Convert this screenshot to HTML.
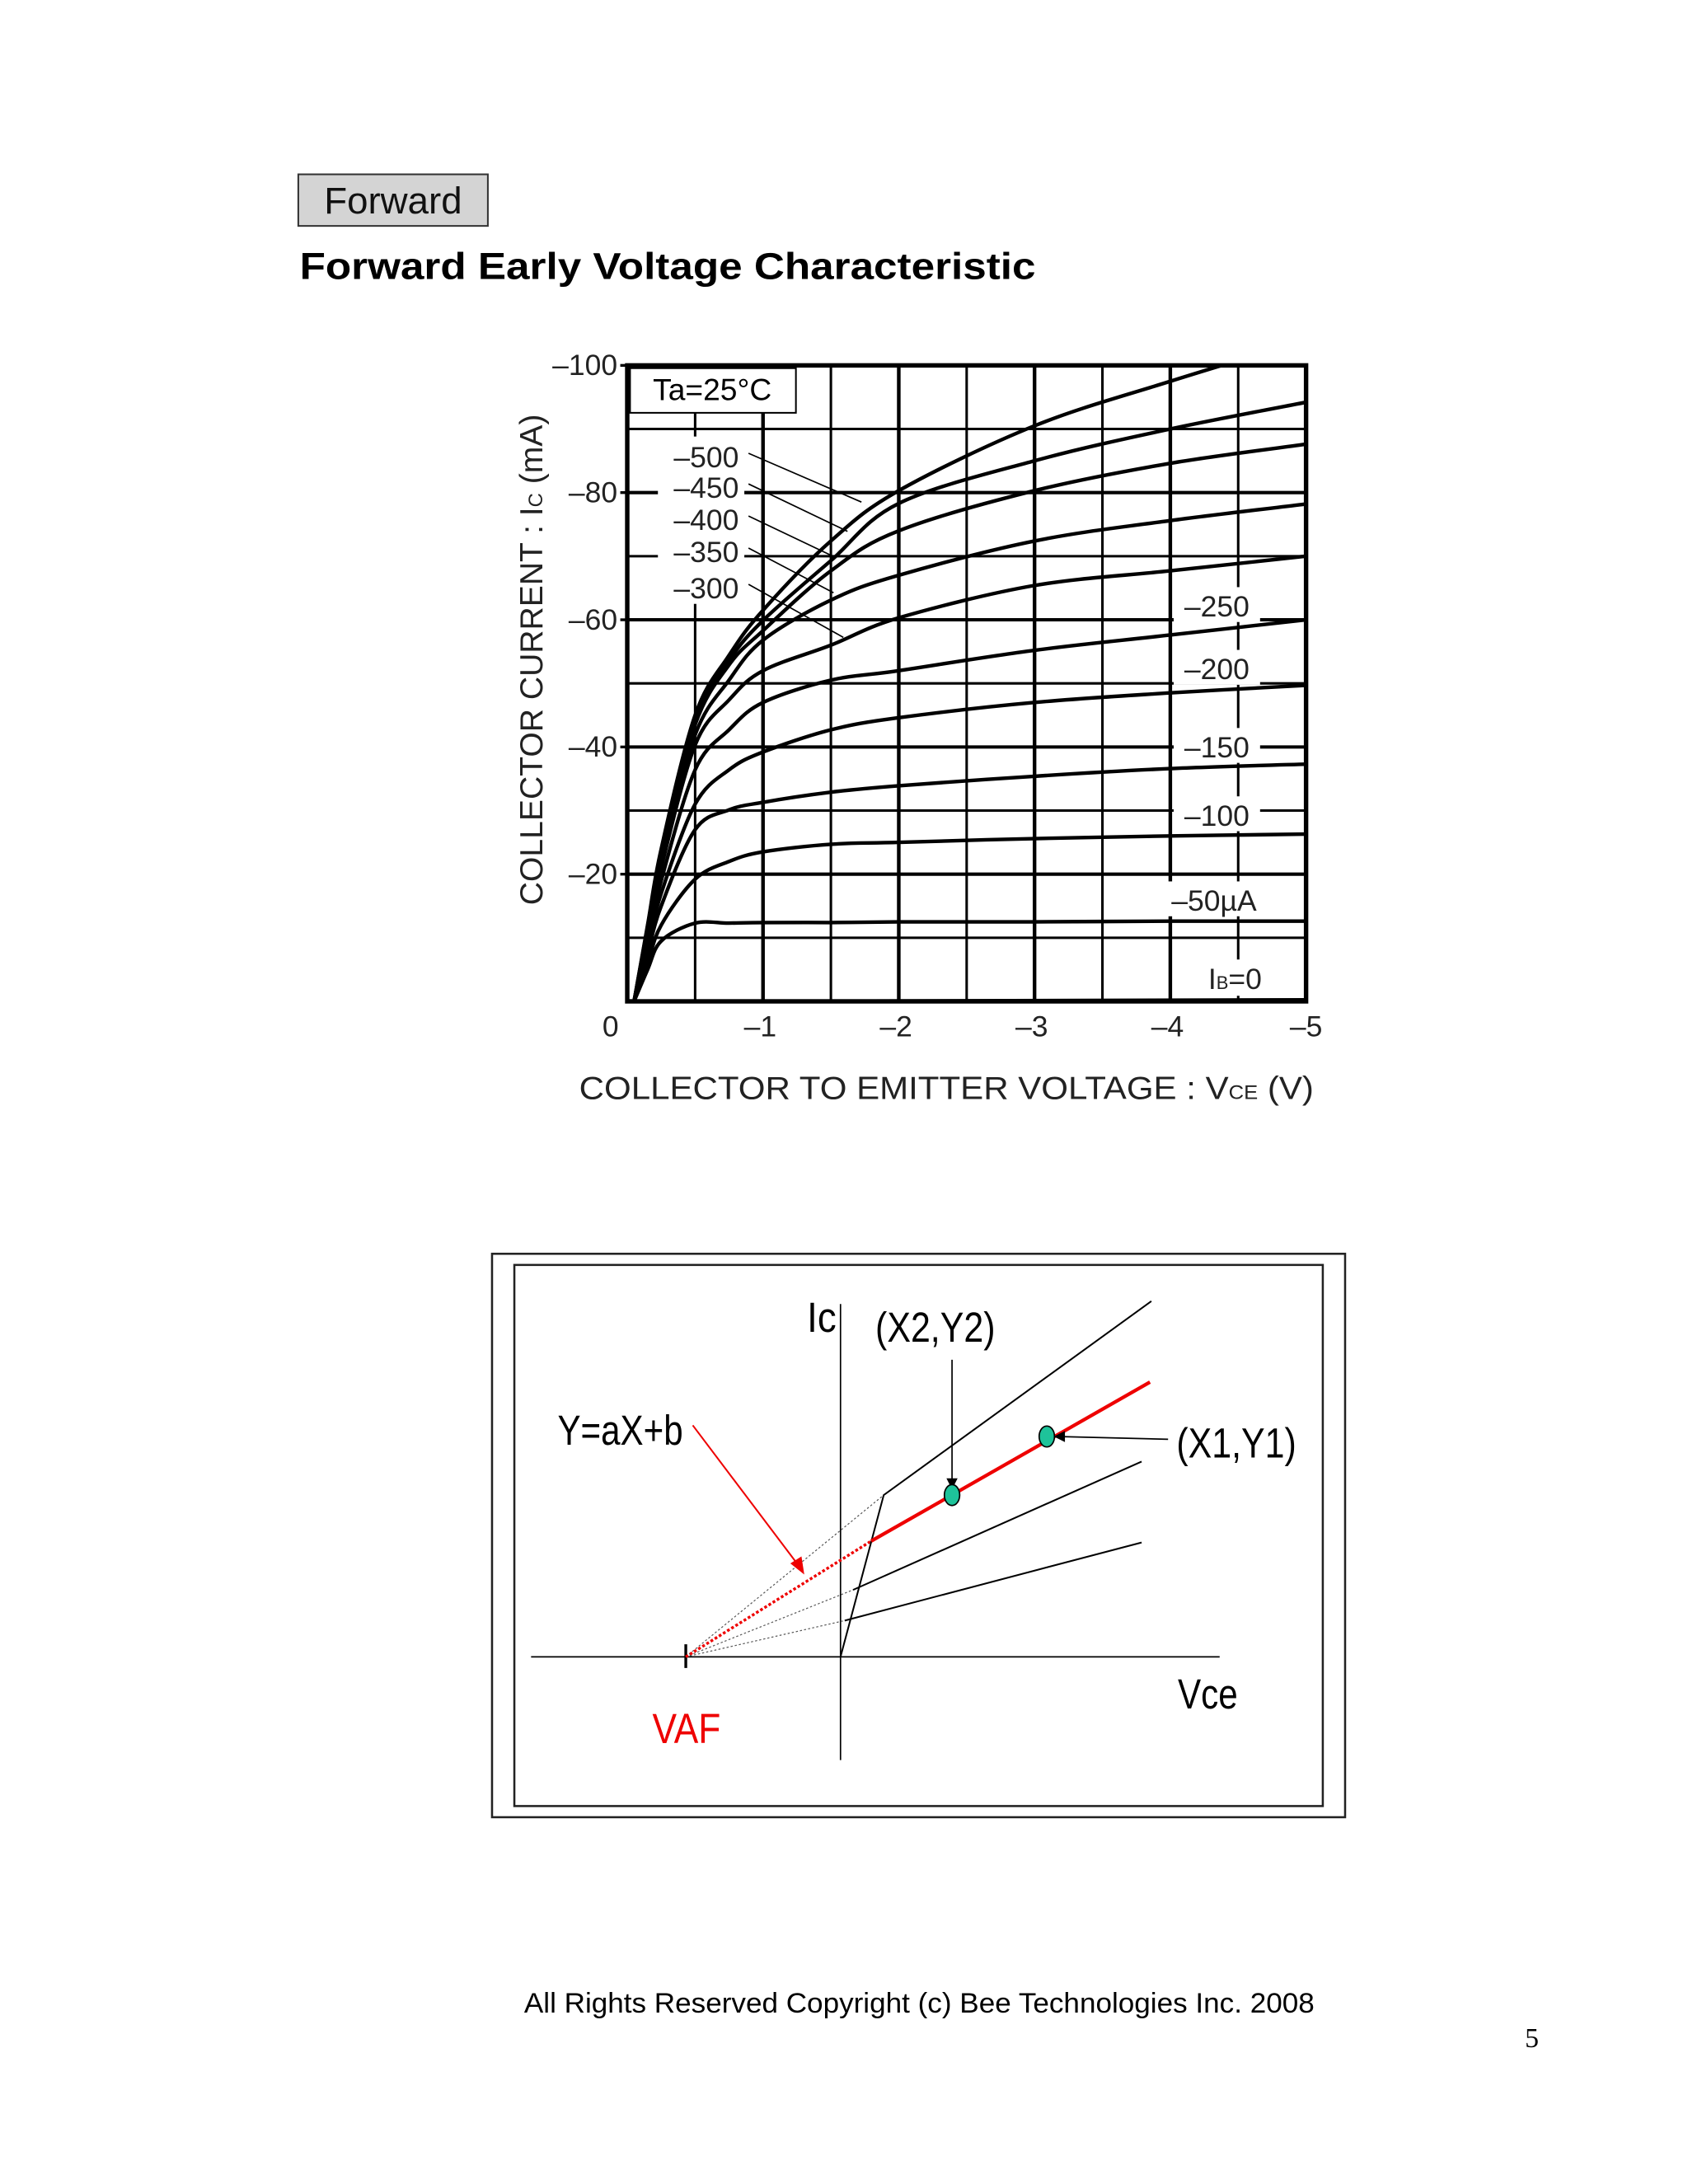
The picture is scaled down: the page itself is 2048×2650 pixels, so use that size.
<!DOCTYPE html>
<html><head><meta charset="utf-8"><style>
html,body{margin:0;padding:0;background:#fff;}
svg{display:block;}
text{font-family:"Liberation Sans",sans-serif;}
</style></head><body>
<svg id="page" width="2048" height="2650" viewBox="0 0 1211 1566" preserveAspectRatio="none" xmlns="http://www.w3.org/2000/svg">
<rect x="0" y="0" width="1211" height="1566" fill="#fff"/>
<g>
<rect x="214" y="125" width="136" height="37" fill="#d4d4d4" stroke="#333" stroke-width="1.2"/>
<text x="282" y="153" font-size="27" text-anchor="middle" fill="#111">Forward</text>
</g>
<text x="215" y="200" font-size="27" font-weight="bold" fill="#000" textLength="528" lengthAdjust="spacingAndGlyphs">Forward Early Voltage Characteristic</text>

<g id="chart"></g>

<g>
<rect x="353" y="899" width="612" height="404" fill="none" stroke="#222" stroke-width="1.5"/>
<rect x="369" y="907" width="580" height="388" fill="none" stroke="#222" stroke-width="1.5"/>
<line x1="381" y1="1188" x2="875" y2="1188" stroke="#000" stroke-width="1"/>
<line x1="603" y1="935" x2="603" y2="1262" stroke="#000" stroke-width="1"/>
<line x1="492" y1="1179" x2="492" y2="1196" stroke="#000" stroke-width="2"/>
<g stroke="#555" stroke-width="0.7" stroke-dasharray="1.5,1.5" fill="none">
<line x1="492" y1="1188" x2="634" y2="1072"/>
<line x1="492" y1="1188" x2="612" y2="1140"/>
<line x1="492" y1="1188" x2="606" y2="1162"/>
</g>
<line x1="492" y1="1188" x2="625" y2="1105" stroke="#e00" stroke-width="2" stroke-dasharray="2,1.5"/>
<g stroke="#000" stroke-width="1.2" fill="none">
<polyline points="603,1188 634,1072 826,933"/>
<line x1="612" y1="1140" x2="819" y2="1048"/>
<line x1="606" y1="1162" x2="819" y2="1106"/>
</g>
<line x1="625" y1="1105" x2="825" y2="991" stroke="#e00" stroke-width="2.5"/>
<line x1="683" y1="975" x2="683" y2="1062" stroke="#000" stroke-width="1"/>
<polygon points="679,1060 687,1060 683,1068" fill="#000"/>
<line x1="838" y1="1032" x2="758" y2="1030" stroke="#000" stroke-width="1"/>
<polygon points="756,1030 764,1026 764,1034" fill="#000"/>
<line x1="497" y1="1022" x2="574" y2="1124" stroke="#e00" stroke-width="1.2"/>
<polygon points="577,1129 567,1121 575,1116" fill="#e00"/>
<ellipse cx="683" cy="1072" rx="5.5" ry="7.5" fill="#1ec39a" stroke="#000" stroke-width="1"/>
<ellipse cx="751" cy="1030" rx="5.5" ry="7.5" fill="#1ec39a" stroke="#000" stroke-width="1"/>
<text x="579" y="955" font-size="30" textLength="21" lengthAdjust="spacingAndGlyphs">Ic</text>
<text x="628" y="962" font-size="30" textLength="86" lengthAdjust="spacingAndGlyphs">(X2,Y2)</text>
<text x="400" y="1036" font-size="30" textLength="90" lengthAdjust="spacingAndGlyphs">Y=aX+b</text>
<text x="844" y="1045" font-size="30" textLength="86" lengthAdjust="spacingAndGlyphs">(X1,Y1)</text>
<text x="845" y="1225" font-size="30" textLength="43" lengthAdjust="spacingAndGlyphs">Vce</text>
<text x="468" y="1250" font-size="30" fill="#e00" textLength="49" lengthAdjust="spacingAndGlyphs">VAF</text>
</g>

<text x="376" y="1443" font-size="20" textLength="567" lengthAdjust="spacingAndGlyphs">All Rights Reserved Copyright (c) Bee Technologies Inc. 2008</text>
<text x="1099" y="1468" font-size="20" text-anchor="middle" style="font-family:'Liberation Serif',serif">5</text>
</svg>
<script>
const vPoints = [0.05,0.15,0.25,0.5,0.75,1,1.5,2,3,4,5];
const ib50  = [0,5,9.5,12.3,12.3,12.4,12.4,12.5,12.5,12.6,12.6];
const ib100 = [0,6,12,19.2,22,23.5,24.7,25,25.6,26,26.3];
const ib150 = [0,7.5,15,27,30.1,31.3,32.9,33.9,35.4,36.6,37.3];
const ib200 = [0,8.5,17,31,36.4,39.2,42.7,44.6,47,48.5,49.7];
const ib250 = [0,9.5,19,36.4,42.7,47,50.5,52,55.2,57.6,60];
const ib300 = [0,10.5,21,40.3,47.4,52,56,60.3,65.4,67.7,70];
const ib350 = [0,11,22,41.9,50.5,56.8,63.1,67,72.4,75.6,78.2];
const ib400 = [0,11.5,23,43.5,52.9,58.3,67.7,74,80.3,84.6,87.6];
const ib450 = [0,11.8,23.5,44.2,53.6,59.9,69.3,78.3,85,90,94.2];
const ib500 = [0,12,24,45,54.4,61.5,72.4,80.3,90.5,97.5,104];
const seriesNames = ["ib-50","ib-100","ib-150","ib-200","ib-250","ib-300","ib-350","ib-400","ib-450","ib-500"];
const seriesValues = [ib50,ib100,ib150,ib200,ib250,ib300,ib350,ib400,ib450,ib500];
const xTicks = [0,1,2,3,4,5];
const xTickLabels = ["0","\u20131","\u20132","\u20133","\u20134","\u20135"];
const yTicks = [20,40,60,80,100];
const yTickLabels = ["\u201320","\u201340","\u201360","\u201380","\u2013100"];
const leftLabels = ["\u2013500","\u2013450","\u2013400","\u2013350","\u2013300"];
const rightLabels = ["\u2013250","\u2013200","\u2013150","\u2013100","\u201350\u00b5A"];

const NS = "http://www.w3.org/2000/svg";
const PL = 450, PR = 937, PT = 262, PB = 718;
const VMAX = 5, IMAX = 100;
function xs(v){ return PL + v/VMAX*(PR-PL); }
function ys(i){ return PB - i/IMAX*(PB-PT); }
const chart = document.getElementById('chart');
function mk(tag, attrs, parent){
  const e = document.createElementNS(NS, tag);
  for (const k in attrs) e.setAttribute(k, attrs[k]);
  (parent||chart).appendChild(e);
  return e;
}
function smoothPath(pts){
  let d = 'M'+pts[0][0].toFixed(1)+','+pts[0][1].toFixed(1);
  for (let i=0;i<pts.length-1;i++){
    const p0 = pts[i-1]||pts[i], p1 = pts[i], p2 = pts[i+1], p3 = pts[i+2]||p2;
    const c1x = p1[0]+(p2[0]-p0[0])/6, c1y = p1[1]+(p2[1]-p0[1])/6;
    const c2x = p2[0]-(p3[0]-p1[0])/6, c2y = p2[1]-(p3[1]-p1[1])/6;
    d += ' C'+c1x.toFixed(1)+','+c1y.toFixed(1)+' '+c2x.toFixed(1)+','+c2y.toFixed(1)+' '+p2[0].toFixed(1)+','+p2[1].toFixed(1);
  }
  return d;
}
const defs = mk('defs',{});
const cp = mk('clipPath',{id:'plotclip'},defs);
mk('rect',{x:PL,y:PT,width:PR-PL,height:PB-PT},cp);

for (let k=1;k<10;k++){
  const v = k*0.5;
  const g = mk('line',{x1:xs(v),y1:PT,x2:xs(v),y2:PB,stroke:'#000','stroke-width':(k%2===0)?2.6:1.8});
  
  
}
for (let k=1;k<10;k++){
  const i = k*10;
  const g = mk('line',{x1:PL,y1:ys(i),x2:PR,y2:ys(i),stroke:'#000','stroke-width':(k%2===0)?2.4:1.8});
  
  
}
const ta = mk('rect',{x:452,y:264,width:119,height:32,fill:'#fff',stroke:'#000','stroke-width':1.2});


const tat = mk('text',{x:511,y:287,'font-size':22,'text-anchor':'middle'});
tat.textContent = 'Ta=25\u00b0C';



mk('rect',{x:472,y:313,width:62,height:120,fill:'#fff'});
const rY = [434,479,535,584,645];
const rX = [873,873,873,873,871];
rightLabels.forEach((t,idx)=>{
  const w = idx===4?78:62;
  mk('rect',{x:rX[idx]-w/2,y:rY[idx]-13,width:w,height:25,fill:'#fff'});
});
mk('rect',{x:860,y:688,width:50,height:26,fill:'#fff'});

seriesValues.forEach((vals,si)=>{
  const pts = vals.map((iv,k)=>[xs(vPoints[k]), ys(iv)]);
  const p = mk('path',{d:smoothPath(pts),fill:'none',stroke:'#000','stroke-width':2.6,'stroke-linejoin':'round','clip-path':'url(#plotclip)'});
  
  
});
const z = mk('path',{d:'M'+xs(0.05)+','+ys(0)+' L'+xs(5)+','+ys(0.3),stroke:'#000','stroke-width':2,fill:'none'});



const b = mk('rect',{x:PL,y:PT,width:PR-PL,height:PB-PT,fill:'none',stroke:'#000','stroke-width':3.2});



yTicks.forEach((iv,k)=>{
  mk('line',{x1:PL-5,y1:ys(iv),x2:PL,y2:ys(iv),stroke:'#000','stroke-width':2});
  const t = mk('text',{x:PL-7,y:ys(iv)+7,'font-size':21,'text-anchor':'end',fill:'#222'});
  t.textContent = yTickLabels[k];
  
  
});
xTicks.forEach((v,k)=>{
  const t = mk('text',{x:xs(v)+(k===0?-12:(k===5?0:-2)),y:743,'font-size':21,'text-anchor':'middle',fill:'#222'});
  t.textContent = xTickLabels[k];
  
  
});
const lY = [327,349,372,395,421];
const leadEnd = [[618,360],[608,381],[600,400],[598,425],[605,457]];
leftLabels.forEach((t,idx)=>{
  const tx = mk('text',{x:530,y:lY[idx]+8,'font-size':21,'text-anchor':'end',fill:'#222'});
  tx.textContent = t;
  
  
  mk('line',{x1:537,y1:lY[idx]-2,x2:leadEnd[idx][0],y2:leadEnd[idx][1],stroke:'#000','stroke-width':1});
});
rightLabels.forEach((t,idx)=>{
  const tx = mk('text',{x:rX[idx],y:rY[idx]+8,'font-size':21,'text-anchor':'middle',fill:'#222'});
  tx.textContent = t;
  
  
});
const ib0 = mk('text',{x:886,y:709,'font-size':21,'text-anchor':'middle',fill:'#222'});
ib0.innerHTML = 'I<tspan font-size="13">B</tspan>=0';



const yt = mk('text',{x:0,y:0,'font-size':23,'text-anchor':'middle',fill:'#222',transform:'translate(389,473) rotate(-90)',textLength:352,lengthAdjust:'spacingAndGlyphs'});
yt.innerHTML = 'COLLECTOR CURRENT : I<tspan font-size="14">C</tspan> (mA)';


const xt = mk('text',{x:679,y:788,'font-size':23,'text-anchor':'middle',fill:'#222',textLength:527,lengthAdjust:'spacingAndGlyphs'});
xt.innerHTML = 'COLLECTOR TO EMITTER VOLTAGE : V<tspan font-size="14">CE</tspan> (V)';


</script>
</body></html>
